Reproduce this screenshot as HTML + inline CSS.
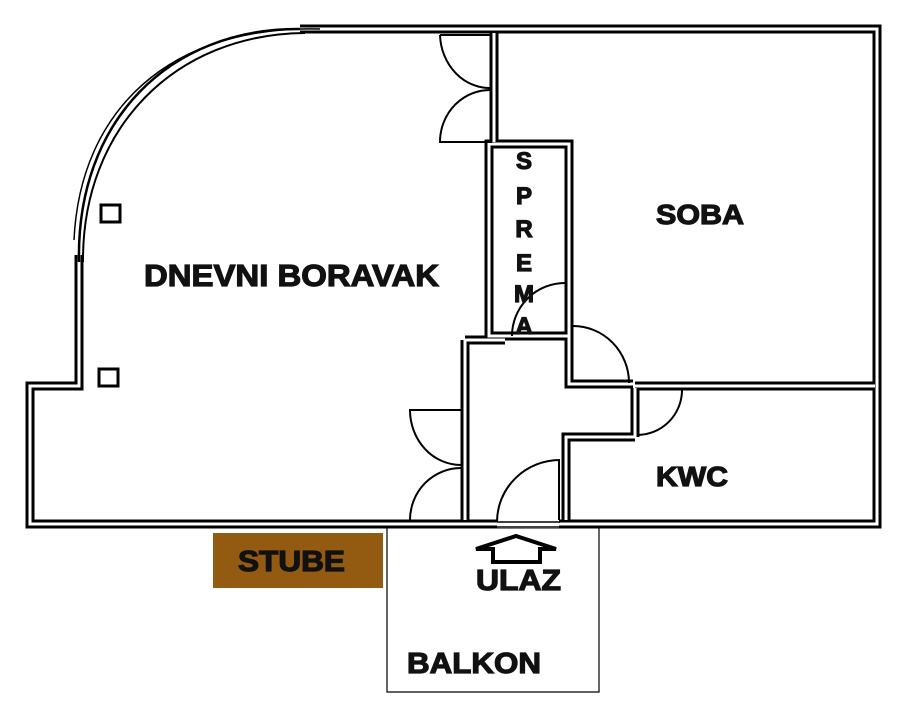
<!DOCTYPE html>
<html><head><meta charset="utf-8"><style>
html,body{margin:0;padding:0;background:#fff;width:910px;height:720px;overflow:hidden}
svg{display:block}
text{font-family:"Liberation Sans",Arial,sans-serif;font-weight:bold;fill:#111;stroke:#111;stroke-width:1.2}
</style></head><body>
<svg width="910" height="720" viewBox="0 0 910 720" xmlns="http://www.w3.org/2000/svg">
<g fill="none" stroke="#000" stroke-width="9">
<path d="M300,29 L877,29 L877,524 L30,524 L30,386 L79,386 L79,255"/>
<path d="M494,33 L494,142"/>
<path d="M489,144 L569,144 L569,336 L489,336 Z"/>
<path d="M465,340 L505,340"/>
<path d="M465,340 L465,520"/>
<path d="M569,336 L569,384 L633,384"/>
<path d="M635,386 L875,386"/>
<path d="M635,388 L635,437"/>
<path d="M635,437 L566,437 L566,520"/>
</g>
<g fill="none" stroke="#fff" stroke-width="3">
<path d="M300,29 L877,29 L877,524 L30,524 L30,386 L79,386 L79,255"/>
<path d="M494,33 L494,142"/>
<path d="M489,144 L569,144 L569,336 L489,336 Z"/>
<path d="M465,340 L505,340"/>
<path d="M465,340 L465,520"/>
<path d="M569,336 L569,384 L633,384"/>
<path d="M635,386 L875,386"/>
<path d="M635,388 L635,437"/>
<path d="M635,437 L566,437 L566,520"/>
</g>
<rect x="497" y="519" width="62" height="9" fill="#fff"/>
<path d="M497,522 H560 M497,527 H560" stroke="#000" stroke-width="1.5"/>
<g fill="none" stroke="#000">
<path d="M79,262 C76,120 170,28 300,29" stroke-width="2.5"/>
<path d="M83,262 C82,128 175,34 305,33" stroke-width="2"/>
<path d="M74,240 C80,110 170,25 320,29" stroke-width="1.5"/>
</g>
<g fill="none" stroke="#000" stroke-width="2">
<path d="M492,88 A50,55 0 0 1 440,35 M440,35 H492"/>
<path d="M492,90 A50,52 0 0 0 440,142 H492"/>
<path d="M512,336 A53,53 0 0 1 565,283"/>
<path d="M573,326 A56,57 0 0 1 629,383"/>
<path d="M682,390 A45,45 0 0 1 637,435"/>
<path d="M461,410 H410 A51,55 0 0 0 461,465"/>
<path d="M461,468 A51,52 0 0 0 410,520"/>
<path d="M560,460 A63,62 0 0 0 497,522"/>
<path d="M559,460 V520"/>
</g>
<rect x="101" y="205" width="19" height="17" fill="none" stroke="#000" stroke-width="3"/>
<rect x="99" y="369" width="19" height="17" fill="none" stroke="#000" stroke-width="3"/>
<path d="M387,528 V692 H599 V528" fill="none" stroke="#000" stroke-width="1.2"/>
<rect x="213" y="533" width="170" height="55" fill="#935A12"/>
<path d="M476,549 L516,536 L556,549 L540,549 L540,562 L493,562 L493,549 Z" fill="none" stroke="#000" stroke-width="4"/>
<text x="144" y="286" font-size="31" textLength="295" lengthAdjust="spacingAndGlyphs">DNEVNI BORAVAK</text>
<text x="656" y="224" font-size="28" textLength="88" lengthAdjust="spacingAndGlyphs">SOBA</text>
<text x="656" y="486" font-size="28" textLength="72" lengthAdjust="spacingAndGlyphs">KWC</text>
<text x="238" y="571" font-size="29" textLength="107" lengthAdjust="spacingAndGlyphs">STUBE</text>
<text x="476" y="590" font-size="29" textLength="85" lengthAdjust="spacingAndGlyphs">ULAZ</text>
<text x="407" y="673" font-size="29" textLength="134" lengthAdjust="spacingAndGlyphs">BALKON</text>
<g font-size="24" text-anchor="middle">
<text x="524" y="169">S</text>
<text x="524" y="204">P</text>
<text x="524" y="237">R</text>
<text x="524" y="271">E</text>
<text x="524" y="302">M</text>
<text x="524" y="334">A</text>
</g>
</svg>
</body></html>
